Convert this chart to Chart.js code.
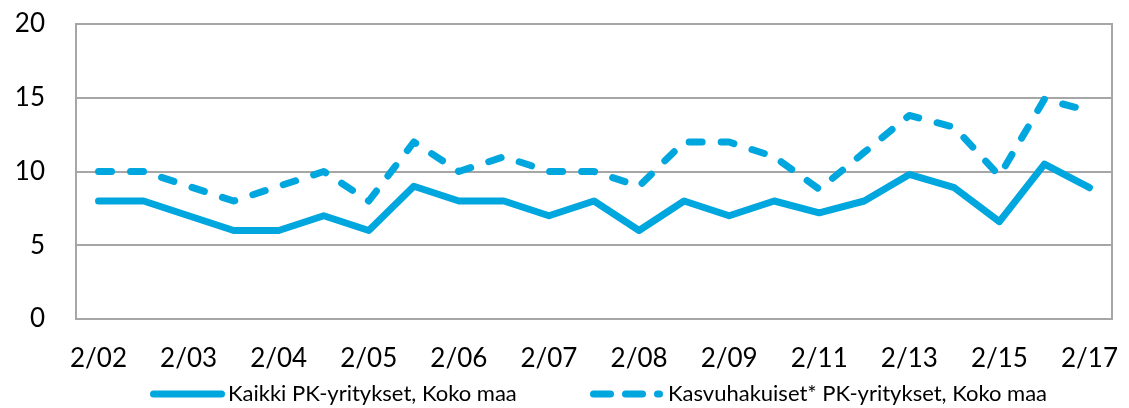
<!DOCTYPE html>
<html>
<head>
<meta charset="utf-8">
<script src="https://cdn.jsdelivr.net/npm/chart.js@4"></script>
<style>
  html, body { margin: 0; padding: 0; background: #fff; }
  #wrap { width: 1129px; height: 408px; }
</style>
</head>
<body>
<div id="wrap"><canvas id="chart" width="1129" height="408"></canvas></div>
<script>
// half-year periods, only every other one is labelled on the axis
var categories = ['2/02', '', '2/03', '', '2/04', '', '2/05', '', '2/06', '', '2/07', '',
                  '2/08', '', '2/09', '', '2/11', '', '2/13', '', '2/15', '', '2/17'];
var kaikki     = [8, 8, 7, 6, 6, 7, 6, 9, 8, 8, 7, 8, 6, 8, 7, 8, 7.2, 8, 9.8, 8.9, 6.6, 10.5, 8.9];
var kasvu      = [10, 10, 9, 8, 9, 10, 8, 12, 10, 11, 10, 10, 9, 12, 12, 11, 8.8, 11.3, 13.8, 13, 9.7, 14.9, 14.1];
var yTicks     = [0, 5, 10, 15, 20];
var seriesNames = ['Kaikki PK-yritykset, Koko maa', 'Kasvuhakuiset* PK-yritykset, Koko maa'];

var blue = '#00A6DE';
var gridGrey = '#A6A6A6';
var font = 'Lato, "Open Sans", sans-serif';

// right edge of the plot frame
var frame = {
  id: 'frame',
  afterDraw: function(chart) {
    var a = chart.chartArea, c = chart.ctx;
    c.save();
    c.strokeStyle = gridGrey;
    c.lineWidth = 2;
    c.beginPath();
    c.moveTo(a.right, a.top - 1);
    c.lineTo(a.right, a.bottom + 1);
    c.stroke();
    c.restore();
  }
};

// legend below the axis, drawn by hand so the samples look like Excel's
var legendBox = {
  id: 'legendBox',
  afterDraw: function(chart) {
    var c = chart.ctx;
    var y = 394;
    var starts = [150, 590];
    var ends = [221.5, 659.5];
    c.save();
    c.font = '22px ' + font;
    c.textBaseline = 'middle';
    c.fillStyle = '#000';
    chart.data.datasets.forEach(function(ds, i) {
      var x = starts[i];
      c.strokeStyle = ds.borderColor;
      c.lineWidth = 7;
      c.lineCap = 'round';
      c.setLineDash(i == 1 ? [17, 15] : []);
      c.beginPath();
      c.moveTo(x + 3.5, y);
      c.lineTo(ends[i], y);
      c.stroke();
      c.setLineDash([]);
      c.fillText(ds.label, x + 78, y);
    });
    c.restore();
  }
};

var ctx = document.getElementById('chart').getContext('2d');
new Chart(ctx, {
  type: 'line',
  data: {
    labels: categories,
    datasets: [{
      label: seriesNames[0],
      data: kaikki,
      borderColor: blue,
      backgroundColor: blue,
      borderWidth: 7,
      pointRadius: 0,
      tension: 0,
      borderJoinStyle: 'round',
      borderCapStyle: 'round'
    }, {
      label: seriesNames[1],
      data: kasvu,
      borderColor: blue,
      backgroundColor: blue,
      borderWidth: 7,
      borderDash: [13, 19],
      borderCapStyle: 'round',
      borderJoinStyle: 'round',
      pointRadius: 0,
      tension: 0
    }]
  },
  options: {
    responsive: false,
    animation: false,
    layout: { padding: { top: 24, right: 17, left: 0, bottom: 0 } },
    plugins: {
      legend: { display: false },
      tooltip: { enabled: false }
    },
    scales: {
      x: {
        offset: true,
        grid: { display: false, drawTicks: false },
        border: { display: true, color: gridGrey, width: 2 },
        ticks: {
          autoSkip: false,
          maxRotation: 0,
          padding: 24,
          color: '#000',
          font: { family: font, size: 26 }
        },
        afterFit: function(s) {
          s.height = 89;
          s.paddingLeft = 0;
          s.paddingRight = 0;
        }
      },
      y: {
        min: 0,
        max: 20,
        afterBuildTicks: function(s) { s.ticks = yTicks.map(function(v) { return { value: v }; }); },
        grid: { color: gridGrey, lineWidth: 2, drawTicks: false },
        border: { display: true, color: gridGrey, width: 2 },
        ticks: {
          padding: 31,
          color: '#000',
          font: { family: font, size: 26 }
        },
        afterFit: function(s) {
          s.width = 76;
          s.paddingTop = 0;
          s.paddingBottom = 0;
        }
      }
    }
  },
  plugins: [frame, legendBox]
});
</script>
</body>
</html>
